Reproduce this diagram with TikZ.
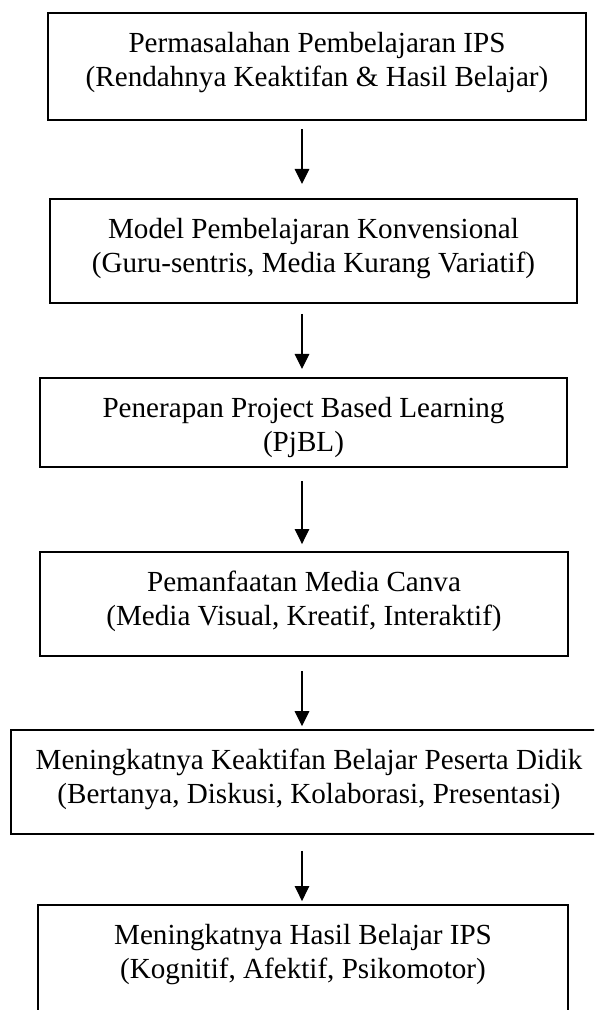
\documentclass[tikz,border=0pt]{standalone}
\usepackage{fontspec}
\setmainfont{Liberation Serif}
\usetikzlibrary{arrows.meta}

\begin{document}
\begin{tikzpicture}[x = 0.412pt, y = -0.412pt]
	\tikzstyle{BoxStyle} = [draw, line width = 0.8pt, inner sep = 0pt]
	\tikzstyle{TextStyle} = [align = center, inner sep = 0pt, anchor = north, yshift = -8.2pt, font = \fontsize{12}{13.8}\selectfont]
	\tikzstyle{ArrowStyle} = [line width = 0.5pt, -{Triangle[length = 6.2pt, width = 6pt]}]
	\useasboundingbox (0,0) rectangle (594,1010);
	\clip (0,0) rectangle (594,1010);
	\coordinate (axis) at (302,0);
	\node[BoxStyle, minimum width = 221.7pt, minimum height = 44.1pt] (b1) at (317,66.5) {};
	\node[BoxStyle, minimum width = 217.1pt, minimum height = 42.8pt] (b2) at (313.5,251) {};
	\node[BoxStyle, minimum width = 217.1pt, minimum height = 36.7pt] (b3) at (303.5,422.5) {};
	\node[BoxStyle, minimum width = 217.5pt, minimum height = 42.8pt] (b4) at (304,604) {};
	\node[BoxStyle, minimum width = 245.6pt, minimum height = 42.8pt] (b5) at (309,782) {};
	\node[BoxStyle, minimum width = 218.4pt, minimum height = 53.6pt] (b6) at (303,970) {};
	\node[TextStyle] (t1) at (b1.north) {Permasalahan Pembelajaran IPS\\(Rendahnya Keaktifan \& Hasil Belajar)};
	\node[TextStyle] (t2) at (b2.north) {Model Pembelajaran Konvensional\\(Guru-sentris, Media Kurang Variatif)};
	\node[TextStyle] (t3) at (b3.north) {Penerapan Project Based Learning\\(PjBL)};
	\node[TextStyle] (t4) at (b4.north) {Pemanfaatan Media Canva\\(Media Visual, Kreatif, Interaktif)};
	\node[TextStyle] (t5) at (b5.north) {Meningkatnya Keaktifan Belajar Peserta Didik\\(Bertanya, Diskusi, Kolaborasi, Presentasi)};
	\node[TextStyle] (t6) at (b6.north) {Meningkatnya Hasil Belajar IPS\\(Kognitif, Afektif, Psikomotor)};
	\draw[ArrowStyle, shorten <= 3.3pt, shorten >= 5.8pt] (b1.south -| axis) -- (b2.north -| axis);
	\draw[ArrowStyle, shorten <= 4.1pt, shorten >= 3.3pt] (b2.south -| axis) -- (b3.north -| axis);
	\draw[ArrowStyle, shorten <= 5.4pt, shorten >= 2.9pt] (b3.south -| axis) -- (b4.north -| axis);
	\draw[ArrowStyle, shorten <= 5.8pt, shorten >= 1.2pt] (b4.south -| axis) -- (b5.north -| axis);
	\draw[ArrowStyle, shorten <= 6.6pt, shorten >= 1.2pt] (b5.south -| axis) -- (b6.north -| axis);
\end{tikzpicture}
\end{document}
